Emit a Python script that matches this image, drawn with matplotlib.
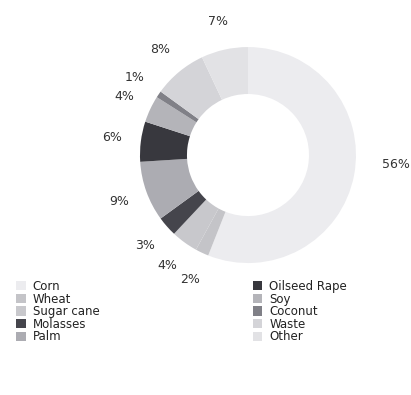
import matplotlib.pyplot as plt
from matplotlib.patches import Patch

labels = ['Corn', 'Wheat', 'Sugar cane', 'Molasses', 'Palm',
          'Oilseed Rape', 'Soy', 'Coconut', 'Waste', 'Other']
shares = [56, 2, 4, 3, 9, 6, 4, 1, 8, 7]
colors = ['#ececef', '#c4c4c8', '#c8c8cc', '#45454c', '#acacb2',
          '#38383e', '#b4b4b9', '#808087', '#d4d4d8', '#e2e2e5']

fig = plt.figure(figsize=(4.11, 3.95), dpi=100)
ax = fig.add_axes([0.3406, 0.334, 0.5255, 0.547])

wedges, texts, autotexts = ax.pie(
    shares, colors=colors, startangle=90, counterclock=False,
    autopct='%d%%', pctdistance=1.27,
    wedgeprops=dict(width=0.435, linewidth=0),
    textprops=dict(fontsize=9, color='#333333'))
# the big share's label sits a bit higher and further out
autotexts[0].set_position((1.37, -0.09))
ax.set_xlim(-1, 1)
ax.set_ylim(-1, 1)
ax.set_aspect('equal')

handles = [Patch(facecolor=c, edgecolor='none') for c in colors]
# column-major order: first five left, last five right
fig.legend(handles, labels, ncol=2, loc='upper left',
           bbox_to_anchor=(0.025, 0.306), frameon=False,
           fontsize=8.5, labelspacing=-0.04, handlelength=0.8,
           handleheight=0.8, handletextpad=0.6, columnspacing=13.0,
           borderpad=0, labelcolor='#222222')

fig.savefig('out.png', dpi=100)
